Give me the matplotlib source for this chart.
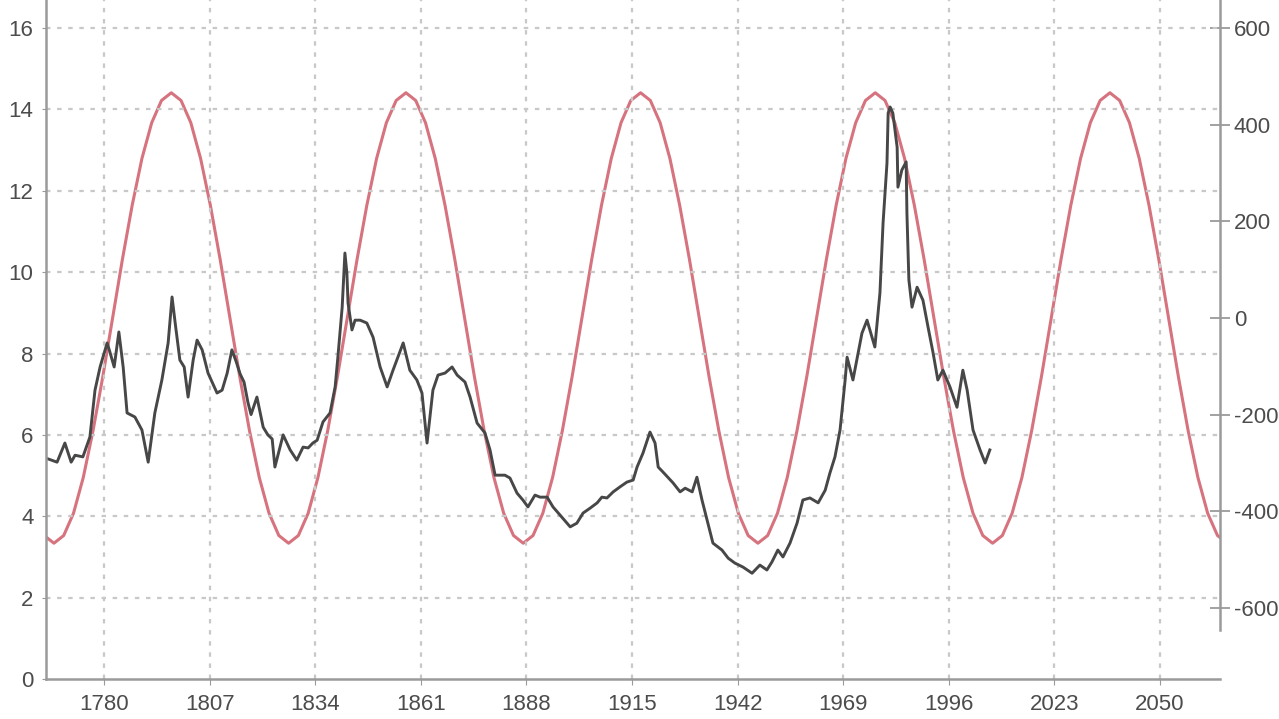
import numpy as np
import matplotlib
matplotlib.use('Agg')
import matplotlib.pyplot as plt

plt.rcParams['font.family'] = ['Liberation Sans', 'DejaVu Sans']
plt.rcParams['axes.unicode_minus'] = False

# black series (left axis)
bk_years = [1765.7, 1768.0, 1770.0, 1771.6, 1772.6, 1774.6, 1776.4, 1777.7, 1779.0, 1780.8,
            1781.5, 1782.6, 1783.8, 1784.9, 1785.9, 1787.9, 1789.7, 1791.3, 1793.0, 1794.8,
            1796.4, 1797.4, 1798.2, 1799.4, 1800.5, 1801.5, 1802.8, 1803.8, 1805.1, 1806.6,
            1808.9, 1810.2, 1811.5, 1812.7, 1813.8, 1814.8, 1815.8, 1816.8, 1817.6, 1819.1,
            1820.7, 1821.9, 1823.0, 1823.7, 1825.8, 1827.6, 1829.3, 1830.9, 1832.2, 1833.4,
            1834.5, 1836.0, 1837.8, 1839.1, 1839.8, 1840.9, 1841.6, 1842.1, 1842.4, 1843.4,
            1844.2, 1845.5, 1847.2, 1848.8, 1850.6, 1852.4, 1853.9, 1856.5, 1858.2, 1860.0,
            1861.3, 1862.6, 1864.1, 1865.4, 1867.2, 1869.0, 1870.3, 1872.3, 1873.6, 1875.4,
            1877.4, 1878.7, 1880.0, 1882.5, 1883.8, 1885.6, 1887.1, 1888.4, 1890.2, 1891.5,
            1893.3, 1894.8, 1896.6, 1899.2, 1900.9, 1902.5, 1904.3, 1906.1, 1907.3, 1908.6,
            1910.2, 1911.9, 1913.7, 1915.3, 1916.3, 1917.8, 1919.6, 1920.9, 1921.7, 1922.9,
            1925.5, 1927.3, 1928.6, 1930.4, 1931.6, 1932.9, 1934.2, 1935.7, 1938.0, 1939.6,
            1941.3, 1943.4, 1945.7, 1947.7, 1949.5, 1950.8, 1952.3, 1953.6, 1955.4, 1957.2,
            1958.7, 1960.5, 1962.6, 1964.4, 1965.6, 1966.9, 1968.2, 1969.5, 1970.0, 1971.5,
            1973.8, 1975.1, 1977.1, 1978.4, 1979.2, 1980.2, 1980.5, 1981.0, 1981.7, 1982.8,
            1983.0, 1984.0, 1985.1, 1985.3, 1985.8, 1986.6, 1987.9, 1989.4, 1990.7, 1992.0,
            1993.2, 1994.5, 1996.3, 1998.1, 1999.6, 2000.7, 2002.2, 2004.0, 2005.3, 2006.5]
bk_vals = [5.41, 5.33, 5.80, 5.33, 5.50, 5.46, 5.95, 7.10, 7.67, 8.26,
           8.04, 7.67, 8.53, 7.67, 6.54, 6.44, 6.12, 5.33, 6.54, 7.35,
           8.26, 9.39, 8.75, 7.84, 7.67, 6.93, 7.84, 8.33, 8.09, 7.52,
           7.03, 7.10, 7.52, 8.09, 7.80, 7.50, 7.30, 6.80, 6.50, 6.93,
           6.19, 6.00, 5.90, 5.21, 6.00, 5.63, 5.38, 5.70, 5.68, 5.80,
           5.87, 6.32, 6.54, 7.18, 7.91, 9.14, 10.47, 9.98, 9.24, 8.58,
           8.82, 8.82, 8.75, 8.40, 7.67, 7.18, 7.59, 8.26, 7.59, 7.35,
           7.03, 5.80, 7.10, 7.47, 7.52, 7.67, 7.47, 7.30, 6.93, 6.29,
           6.05, 5.63, 5.01, 5.01, 4.94, 4.57, 4.40, 4.23, 4.52, 4.47,
           4.47, 4.23, 4.03, 3.74, 3.83, 4.08, 4.20, 4.33, 4.47, 4.45,
           4.60, 4.72, 4.84, 4.89, 5.21, 5.55, 6.07, 5.80, 5.21, 5.09,
           4.82, 4.60, 4.69, 4.60, 4.96, 4.40, 3.91, 3.34, 3.17, 2.97,
           2.85, 2.75, 2.60, 2.80, 2.68, 2.88, 3.17, 3.00, 3.34, 3.83,
           4.40, 4.45, 4.33, 4.64, 5.06, 5.46, 6.12, 7.35, 7.91, 7.35,
           8.50, 8.82, 8.16, 9.49, 11.21, 12.68, 13.91, 14.06, 13.91, 13.07,
           12.09, 12.51, 12.71, 11.45, 9.81, 9.14, 9.63, 9.31, 8.65, 8.01,
           7.35, 7.59, 7.18, 6.68, 7.59, 7.10, 6.12, 5.63, 5.31, 5.63]

# red cycle (right axis), every 2.5 years
red_years = [1764.7,
             1767.2, 1769.7, 1772.2, 1774.7, 1777.2, 1779.7, 1782.2, 1784.7, 1787.2, 1789.7, 1792.2, 1794.7,
             1797.2, 1799.7, 1802.2, 1804.7, 1807.2, 1809.7, 1812.2, 1814.7, 1817.2, 1819.7, 1822.2, 1824.7,
             1827.2, 1829.7, 1832.2, 1834.7, 1837.2, 1839.7, 1842.2, 1844.7, 1847.2, 1849.7, 1852.2, 1854.7,
             1857.2, 1859.7, 1862.2, 1864.7, 1867.2, 1869.7, 1872.2, 1874.7, 1877.2, 1879.7, 1882.2, 1884.7,
             1887.2, 1889.7, 1892.2, 1894.7, 1897.2, 1899.7, 1902.2, 1904.7, 1907.2, 1909.7, 1912.2, 1914.7,
             1917.2, 1919.7, 1922.2, 1924.7, 1927.2, 1929.7, 1932.2, 1934.7, 1937.2, 1939.7, 1942.2, 1944.7,
             1947.2, 1949.7, 1952.2, 1954.7, 1957.2, 1959.7, 1962.2, 1964.7, 1967.2, 1969.7, 1972.2, 1974.7,
             1977.2, 1979.7, 1982.2, 1984.7, 1987.2, 1989.7, 1992.2, 1994.7, 1997.2, 1999.7, 2002.2, 2004.7,
             2007.2, 2009.7, 2012.2, 2014.7, 2017.2, 2019.7, 2022.2, 2024.7, 2027.2, 2029.7, 2032.2, 2034.7,
             2037.2, 2039.7, 2042.2, 2044.7, 2047.2, 2049.7, 2052.2, 2054.7, 2057.2, 2059.7, 2062.2, 2064.7,
             2067.2]
red_vals = [-450,
            -466, -450, -404, -330, -233, -121, 0, 121, 233, 330, 404, 450,
            466, 450, 404, 330, 233, 121, 0, -121, -233, -330, -404, -450,
            -466, -450, -404, -330, -233, -121, 0, 121, 233, 330, 404, 450,
            466, 450, 404, 330, 233, 121, 0, -121, -233, -330, -404, -450,
            -466, -450, -404, -330, -233, -121, 0, 121, 233, 330, 404, 450,
            466, 450, 404, 330, 233, 121, 0, -121, -233, -330, -404, -450,
            -466, -450, -404, -330, -233, -121, 0, 121, 233, 330, 404, 450,
            466, 450, 404, 330, 233, 121, 0, -121, -233, -330, -404, -450,
            -466, -450, -404, -330, -233, -121, 0, 121, 233, 330, 404, 450,
            466, 450, 404, 330, 233, 121, 0, -121, -233, -330, -404, -450,
            -466]

x_ticks = [1780, 1807, 1834, 1861, 1888, 1915, 1942, 1969, 1996, 2023, 2050]
left_ticks = [0, 2, 4, 6, 8, 10, 12, 14, 16]
right_ticks = [-600, -400, -200, 0, 200, 400, 600]

W, H = 1279, 719
fig = plt.figure(figsize=(W / 100, H / 100), dpi=100)
ax = fig.add_axes([46 / W, 40 / H, (1220 - 46) / W, 679 / H])
ax2 = ax.twinx()

grid_col = '#c8c8c8'
spine_col = '#9a9a9a'
txt_col = '#4c4c4c'

ax2.plot(red_years, red_vals, color='#d6737e', lw=2.2,
         solid_capstyle='round', solid_joinstyle='round')
ax.plot(bk_years, bk_vals, color='#474747', lw=2.1, solid_joinstyle='round')

ax.set_zorder(ax2.get_zorder() + 1)
ax.patch.set_visible(False)

ax.set_xlim(1765.17, 2065.35)
ax.set_ylim(0, 16.69)
ax2.set_ylim(-746.9, 657.9)

ax.set_xticks(x_ticks)
ax.set_yticks(left_ticks)
ax2.set_yticks(right_ticks)

for gx in x_ticks:
    ax.axvline(gx, color=grid_col, lw=1.6, ls=(0, (2, 3)), zorder=0)
for gy in left_ticks[1:]:
    ax.axhline(gy, color=grid_col, lw=1.6, ls=(0, (2, 3)), zorder=0)

for s in ['top', 'right']:
    ax.spines[s].set_visible(False)
for s in ['top', 'left', 'bottom']:
    ax2.spines[s].set_visible(False)
for s in ['left', 'bottom']:
    ax.spines[s].set_color(spine_col)
    ax.spines[s].set_linewidth(1.8)
ax2.spines['right'].set_color(spine_col)
ax2.spines['right'].set_linewidth(1.8)
ax2.spines['right'].set_bounds(-645, 657.9)

ax.tick_params(axis='x', colors=spine_col, labelcolor=txt_col, labelsize=16, length=4, pad=7)
ax.tick_params(axis='y', colors=spine_col, labelcolor=txt_col, labelsize=16, length=3, pad=6)
ax2.tick_params(axis='y', colors=spine_col, labelcolor=txt_col, labelsize=16,
                direction='inout', length=14, width=1.3, pad=3)

fig.savefig('out.png', dpi=100)
